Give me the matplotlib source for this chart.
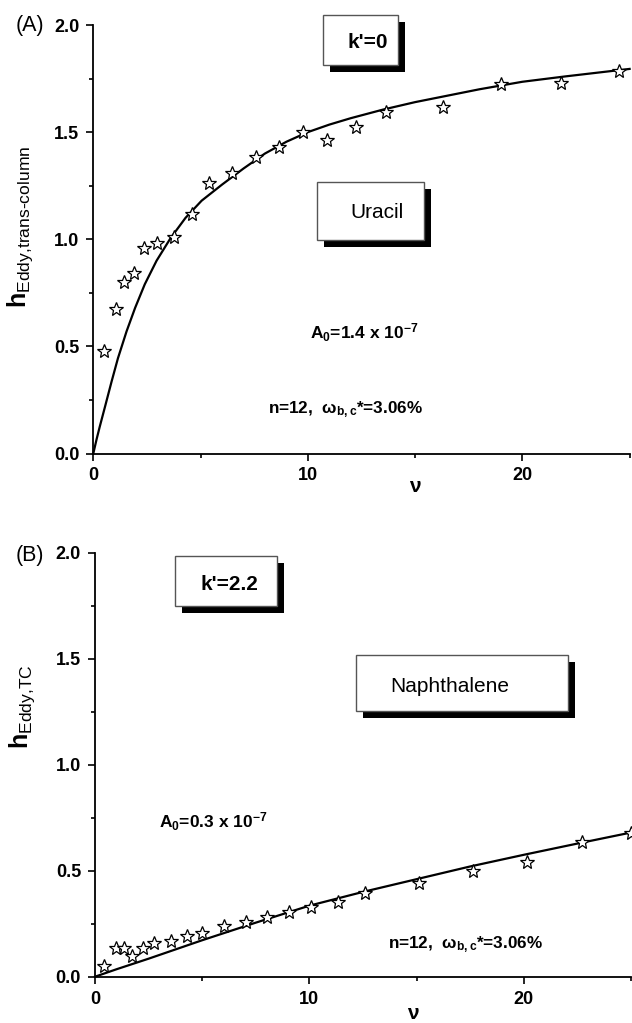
import matplotlib
matplotlib.use("Agg")
import matplotlib.pyplot as plt
from matplotlib.patches import Rectangle

plt.rcParams['font.family'] = 'Liberation Sans'
plt.rcParams['mathtext.fontset'] = 'custom'
plt.rcParams['mathtext.rm'] = 'Liberation Sans'
plt.rcParams['mathtext.it'] = 'Liberation Sans:italic'
plt.rcParams['mathtext.bf'] = 'Liberation Sans:bold'

W, H = 632, 1023

# (A) uracil, k'=0 -- measured points
nu_a = [0.51, 1.04, 1.45, 1.88, 2.38, 2.97, 3.78, 4.62, 5.41, 6.48, 7.59, 8.67,
        9.76, 10.88, 12.25, 13.63, 16.32, 19.01, 21.79, 24.51]
h_a = [0.478, 0.675, 0.802, 0.841, 0.958, 0.981, 1.012, 1.117, 1.261, 1.308, 1.386,
       1.432, 1.502, 1.464, 1.526, 1.596, 1.616, 1.724, 1.728, 1.787]
# fitted curve
fit_nu_a = [0, 0.15, 0.3, 0.55, 0.85, 1.15, 1.55, 1.95, 2.4, 2.95, 3.6, 4.3, 5.05, 6.0,
            7.0, 8.0, 9.0, 10.0, 11.0, 12.0, 13.5, 15.0, 16.5, 18.0, 20.0, 22.0, 25.0]
fit_h_a = [0, 0.065, 0.125, 0.22, 0.335, 0.445, 0.57, 0.68, 0.79, 0.90, 1.005, 1.10,
           1.18, 1.255, 1.33, 1.40, 1.455, 1.50, 1.535, 1.565, 1.605, 1.64, 1.67,
           1.70, 1.735, 1.76, 1.795]

# (B) naphthalene, k'=2.2
nu_b = [0.43, 0.96, 1.37, 1.74, 2.25, 2.75, 3.53, 4.28, 5.00, 6.03, 7.04, 8.04,
        9.05, 10.06, 11.35, 12.59, 15.13, 17.65, 20.16, 22.70, 25.0]
h_b = [0.050, 0.134, 0.134, 0.099, 0.137, 0.157, 0.168, 0.193, 0.208, 0.241, 0.260,
       0.283, 0.304, 0.328, 0.354, 0.393, 0.440, 0.500, 0.540, 0.634, 0.676]
fit_nu_b = [0, 1, 2.5, 5, 7.5, 10, 12.5, 15, 17.5, 20, 22.5, 25]
fit_h_b = [0, 0.035, 0.085, 0.172, 0.255, 0.335, 0.40, 0.46, 0.52, 0.575, 0.628, 0.68]


def frac(x0, y0, x1, y1):
    # pixel box (from top-left) -> figure fraction [l, b, w, h]
    return [x0 / W, 1 - y1 / H, (x1 - x0) / W, (y1 - y0) / H]


fig = plt.figure(figsize=(W / 100, H / 100), dpi=100)
ax_a = fig.add_axes(frac(93.3, 25, 629.6, 453.5))
ax_b = fig.add_axes(frac(95, 552.7, 631, 976.7))


def style(ax, ylabel, lab_y, nu_xy):
    ax.set_xlim(0, 25)
    ax.set_ylim(0, 2.0)
    ax.spines[['top', 'right']].set_visible(False)
    ax.spines[['left', 'bottom']].set_linewidth(1.3)
    ax.set_xticks([0, 10, 20])
    ax.set_xticks([5, 15, 25], minor=True)
    ax.set_yticks([0, 0.5, 1.0, 1.5, 2.0])
    ax.set_yticks([0.25, 0.75, 1.25, 1.75], minor=True)
    ax.yaxis.set_major_formatter('{x:.1f}')
    ax.tick_params(which='major', length=5, width=1.2, labelsize=13, pad=5)
    ax.tick_params(which='minor', length=3, width=1.2)
    plt.setp(ax.get_xticklabels() + ax.get_yticklabels(), fontweight='bold')
    ax.set_ylabel(ylabel, fontsize=18)
    ax.yaxis.set_label_coords(-0.108, lab_y)
    ax.set_xlabel('ν', fontsize=15, fontweight='bold', va='center')
    ax.xaxis.set_label_coords(*nu_xy)


def plot_panel(ax, nu, h, fnu, fh):
    ax.plot(fnu, fh, color='black', lw=1.6, zorder=2, clip_on=False)
    ax.plot(nu, h, ls='none', marker='*', ms=10, mfc='white', mec='black',
            mew=0.9, zorder=3, clip_on=False)


plot_panel(ax_a, nu_a, h_a, fit_nu_a, fit_h_a)
plot_panel(ax_b, nu_b, h_b, fit_nu_b, fit_h_b)
style(ax_a, r'$\mathbf{h}_{\text{Eddy,trans-column}}$', 0.53, (0.60, -0.076))
style(ax_b, r'$\mathbf{h}_{\text{Eddy,TC}}$', 0.638, (0.593, -0.086))


def ftext(x, y, s, **kw):
    fig.text(x / W, 1 - y / H, s, ha='center', va='center', **kw)


def shadow_box(x0, y0, x1, y1, d=7):
    l, b, w, hh = frac(x0 + d, y0 + d, x1 + d, y1 + d)
    fig.add_artist(Rectangle((l, b), w, hh, transform=fig.transFigure,
                             facecolor='black', edgecolor='none', zorder=4))
    l, b, w, hh = frac(x0, y0, x1, y1)
    fig.add_artist(Rectangle((l, b), w, hh, transform=fig.transFigure,
                             facecolor='white', edgecolor='#555555', lw=1.0, zorder=5))


# panel letters
ftext(30, 26, '(A)', fontsize=15.5, zorder=6)
ftext(30, 556, '(B)', fontsize=15.5, zorder=6)

# boxes
shadow_box(322.7, 15, 398.3, 65)
ftext(368, 43, "k'=0", fontsize=15, fontweight='bold', zorder=6)
shadow_box(317.3, 181.7, 424, 240)
ftext(377, 213, 'Uracil', fontsize=15, zorder=6)
shadow_box(175, 555.7, 276.7, 605.7)
ftext(229, 585, "k'=2.2", fontsize=15, fontweight='bold', zorder=6)
shadow_box(355.7, 655, 568.3, 710.7)
ftext(450, 687, 'Naphthalene', fontsize=15, zorder=6)

# annotations
ftext(364, 333, r'A$_\mathbf{0}$=1.4 x 10$^\mathbf{-7}$', fontsize=12.5,
      fontweight='bold', zorder=6)
ftext(345, 410, r'n=12,  $\mathregular{\omega_{b,c}}$*=3.06%', fontsize=12.3,
      fontweight='bold', zorder=6)
ftext(213, 822, r'A$_\mathbf{0}$=0.3 x 10$^\mathbf{-7}$', fontsize=12.5,
      fontweight='bold', zorder=6)
ftext(465, 945, r'n=12,  $\mathregular{\omega_{b,c}}$*=3.06%', fontsize=12.3,
      fontweight='bold', zorder=6)

plt.savefig('out.png', dpi=100)
